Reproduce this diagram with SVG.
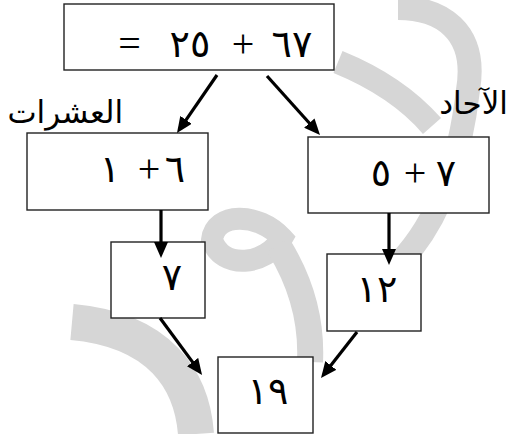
<svg xmlns="http://www.w3.org/2000/svg" width="513" height="434" viewBox="0 0 513 434">
<defs>
<style>
.wm{fill:none;stroke:#d6d6d6;stroke-linecap:butt}
.box{fill:#fff;stroke:#222;stroke-width:1.4}
.num{font-family:"DejaVu Sans","Liberation Serif",serif;font-size:38px;fill:#000}
.op{font-family:"Liberation Serif","DejaVu Serif",serif;font-size:40px;fill:#000}
.lbl{font-family:"DejaVu Sans","Noto Sans",sans-serif;font-size:31px;fill:#000}
.conn{stroke:#000;stroke-width:3.2;fill:none;marker-end:url(#ah)}
</style>
<marker id="ah" markerUnits="userSpaceOnUse" markerWidth="16" markerHeight="14" refX="10" refY="7" orient="auto" viewBox="0 0 16 14">
<path d="M0,0 L16,7 L0,14 z" fill="#000"/>
</marker>
</defs>
<rect width="513" height="434" fill="#fff"/>
<g id="watermark">
<path class="wm" stroke-width="24" d="M398 8 C440 8 478 30 468 90 C460 160 440 220 400 262"/>
<path class="wm" stroke-width="24" d="M338 62 C370 75 405 95 432 126"/>
<path class="wm" stroke-width="22" d="M212 240 C215 212 258 212 282 238 C266 266 222 270 212 240 z"/>
<path class="wm" stroke-width="26" d="M278 245 C300 280 312 320 310 362"/>
<path class="wm" stroke-width="36" d="M72 322 C160 330 192 380 196 434"/>
</g>
<g id="top">
<rect class="box" x="64" y="4" width="270" height="66"/>
<text y="57"><tspan class="op" x="129.5" text-anchor="middle">=</tspan><tspan class="num" x="190" text-anchor="middle">٢٥</tspan><tspan class="op" x="243" text-anchor="middle">+</tspan><tspan class="num" x="292" text-anchor="middle">٦٧</tspan></text>
</g>
<g id="label-tens">
<text class="lbl" x="123" y="123" text-anchor="end">العشرات</text>
</g>
<g id="label-ones">
<text class="lbl" x="508" y="114" text-anchor="end">الآحاد</text>
</g>
<g id="tens">
<rect class="box" x="27" y="133" width="181" height="77"/>
<text y="182"><tspan class="num" x="110" text-anchor="middle">١</tspan><tspan class="op" x="149" text-anchor="middle">+</tspan><tspan class="num" x="175" text-anchor="middle">٦</tspan></text>
</g>
<g id="ones">
<rect class="box" x="308" y="137" width="181" height="76"/>
<text y="186"><tspan class="num" x="381" text-anchor="middle">٥</tspan><tspan class="op" x="415" text-anchor="middle">+</tspan><tspan class="num" x="446" text-anchor="middle">٧</tspan></text>
</g>
<g id="seven">
<rect class="box" x="111" y="242" width="94" height="76"/>
<text class="num" x="172" y="290" text-anchor="middle">٧</text>
</g>
<g id="twelve">
<rect class="box" x="327" y="254" width="94" height="77"/>
<text class="num" x="377" y="302" text-anchor="middle">١٢</text>
</g>
<g id="nineteen">
<rect class="box" x="218" y="357" width="95" height="76"/>
<text class="num" x="268" y="404" text-anchor="middle">١٩</text>
</g>
<g id="connectors">
<line class="conn" x1="217" y1="75" x2="180.4" y2="128.1"/>
<line class="conn" x1="267" y1="76" x2="316" y2="130.5"/>
<line class="conn" x1="161" y1="210" x2="161" y2="252"/>
<line class="conn" x1="389" y1="213" x2="389" y2="259"/>
<line class="conn" x1="160" y1="318" x2="198.5" y2="370.1"/>
<line class="conn" x1="357" y1="332" x2="324.7" y2="373.3"/>
</g>
</svg>
